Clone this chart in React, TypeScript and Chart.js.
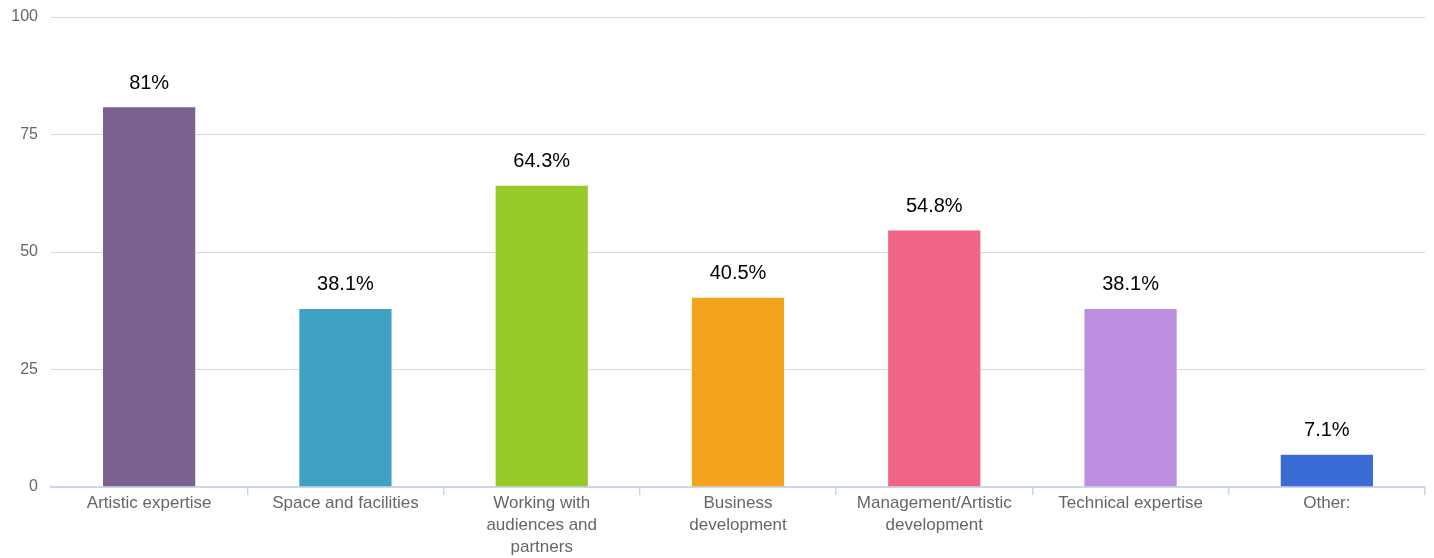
import React, { useEffect, useRef } from "react";
import { Chart, registerables } from "chart.js";

Chart.register(...registerables);

const categories: (string | string[])[] = [
  "Artistic expertise",
  "Space and facilities",
  ["Working with", "audiences and", "partners"],
  ["Business", "development"],
  ["Management/Artistic", "development"],
  "Technical expertise",
  "Other:",
];
const values = [81, 38.1, 64.3, 40.5, 54.8, 38.1, 7.1];
const valueLabels = ["81%", "38.1%", "64.3%", "40.5%", "54.8%", "38.1%", "7.1%"];
const barColors = ["#7b6190", "#40a2c2", "#97c927", "#f4a41c", "#f06586", "#bc8ee0", "#3b6bd4"];
const yTicks = [0, 25, 50, 75, 100];

const FONT = "'Liberation Sans', Arial, Helvetica, sans-serif";

const labelPlugin = {
  id: "valueLabels",
  afterDatasetsDraw(chart: any) {
    const ctx = chart.ctx;
    const meta = chart.getDatasetMeta(0);
    ctx.save();
    ctx.font = `20px ${FONT}`;
    ctx.fillStyle = "#000000";
    ctx.textAlign = "center";
    ctx.textBaseline = "middle";
    meta.data.forEach((bar: any, i: number) => {
      ctx.fillText(valueLabels[i], bar.x, bar.y - 23);
    });
    ctx.restore();
  },
};

export default function App() {
  const ref = useRef<HTMLCanvasElement | null>(null);
  useEffect(() => {
    if (!ref.current) return;
    const chart = new Chart(ref.current, {
      type: "bar",
      data: {
        labels: categories,
        datasets: [
          {
            data: values,
            backgroundColor: barColors,
            borderColor: "#ffffff",
            borderWidth: 1,
            barPercentage: 0.48,
            categoryPercentage: 1,
          },
        ],
      },
      options: {
        animation: false,
        responsive: true,
        maintainAspectRatio: false,
        layout: { padding: { top: 17, right: 9, left: 0, bottom: 0 } },
        plugins: { legend: { display: false }, tooltip: { enabled: false } },
        scales: {
          x: {
            afterFit: (s: any) => {
              s.height = 71;
            },
            grid: {
              offset: true,
              drawOnChartArea: false,
              drawTicks: true,
              tickLength: 8,
              color: (c: any) => (c.index === 0 ? "rgba(0,0,0,0)" : "#ccd6eb"),
              lineWidth: 1.5,
            },
            border: { display: true, color: "#ccd6eb", width: 2 },
            ticks: {
              color: "#666666",
              font: { family: FONT, size: 17, lineHeight: 1.3 },
              padding: -3,
              maxRotation: 0,
              autoSkip: false,
            },
          },
          y: {
            min: 0,
            max: 100,
            afterFit: (s: any) => {
              s.width = 51;
              s.paddingTop = 0;
              s.paddingBottom = 0;
            },
            afterBuildTicks: (s: any) => {
              s.ticks = yTicks.map((v) => ({ value: v }));
            },
            grid: {
              color: (c: any) => (c.tick && c.tick.value === 0 ? "rgba(0,0,0,0)" : "#d8d8d8"),
              lineWidth: 1,
              drawTicks: false,
            },
            border: { display: false },
            ticks: {
              color: "#666666",
              font: { family: FONT, size: 16 },
              padding: 13,
            },
          },
        },
      },
      plugins: [labelPlugin],
    });
    return () => chart.destroy();
  }, []);
  return (
    <div style={{ position: "fixed", left: 0, top: 0, width: 1434, height: 558, background: "#fff" }}>
      <canvas ref={ref} />
    </div>
  );
}
